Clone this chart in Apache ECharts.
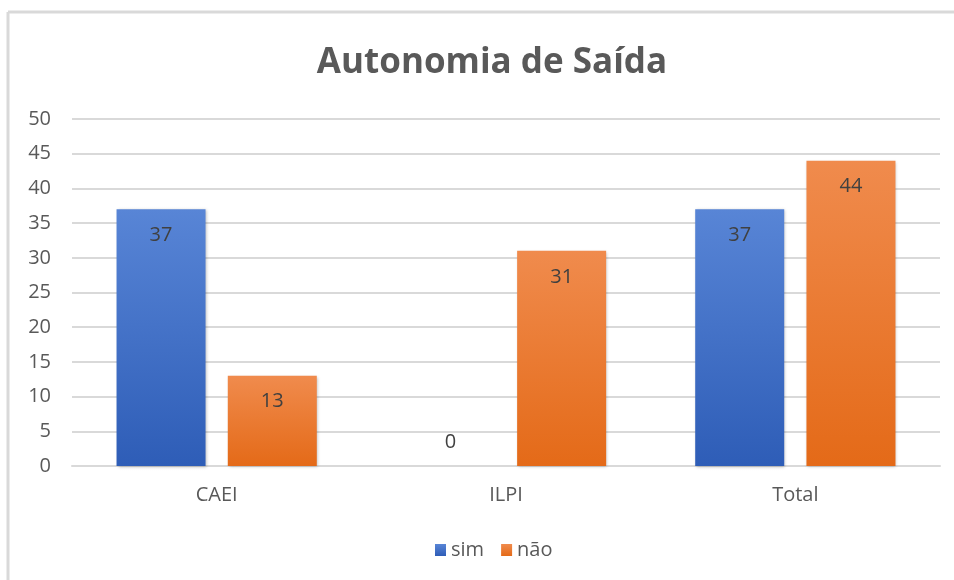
<!DOCTYPE html>
<html><head><meta charset="utf-8">
<script src="https://cdn.jsdelivr.net/npm/echarts@6/dist/echarts.min.js"></script>
<style>html,body{margin:0;padding:0;background:#fff}#c{width:954px;height:580px}</style>
</head><body><div id="c"></div>
<script>
const categories = ['CAEI', 'ILPI', 'Total'];
const simValues = [37, 0, 37];
const naoValues = [13, 31, 44];
const yTicks = [0, 5, 10, 15, 20, 25, 30, 35, 40, 45, 50];
const seriesNames = ['sim', 'não'];

const chart = echarts.init(document.getElementById('c'));
const FONT = 'Open Sans';
function grad(top, bottom) {
  return new echarts.graphic.LinearGradient(0, 0, 0, 1, [{offset: 0, color: top}, {offset: 1, color: bottom}]);
}
function mkData(vals) {
  return vals.map(v => v === 0 ? {value: v, label: {position: 'top', distance: 14}} : v);
}
const labelCfg = {show: true, position: 'insideTop', distance: 16, color: '#404040', fontSize: 20, fontFamily: FONT};
chart.setOption({
  animation: false,
  backgroundColor: '#fff',
  title: {text: 'Autonomia de Saída', left: 487, textAlign: 'center', top: 41,
    textStyle: {fontFamily: FONT, fontSize: 35, fontWeight: 'bold', color: '#595959'}},
  legend: {bottom: 15, left: 430, itemWidth: 11, itemHeight: 12, itemGap: 17, icon: 'rect',
    textStyle: {fontFamily: FONT, fontSize: 20, color: '#595959'}, data: seriesNames},
  grid: {left: 72, right: 14, top: 119, bottom: 114},
  xAxis: {type: 'category', data: categories,
    axisLine: {show: true, lineStyle: {color: '#d9d9d9', width: 2}}, axisTick: {show: false},
    axisLabel: {fontFamily: FONT, fontSize: 20, color: '#595959', margin: 19}},
  yAxis: {type: 'value', min: yTicks[0], max: yTicks[yTicks.length - 1], interval: 5,
    axisLine: {show: false}, axisTick: {show: false},
    splitLine: {lineStyle: {color: '#d9d9d9', width: 2}},
    axisLabel: {fontFamily: FONT, fontSize: 20, color: '#595959', margin: 21}},
  series: [
    {name: seriesNames[0], type: 'bar', data: mkData(simValues), barWidth: 89, barGap: '25%',
      itemStyle: {color: grad('#5885d6', '#2e5db7'), shadowColor: 'rgba(0,0,0,0.25)', shadowBlur: 3, shadowOffsetX: 1, shadowOffsetY: 1},
      label: labelCfg},
    {name: seriesNames[1], type: 'bar', data: mkData(naoValues), barWidth: 89, barGap: '25%',
      itemStyle: {color: grad('#f08b4d', '#e46a18'), shadowColor: 'rgba(0,0,0,0.25)', shadowBlur: 3, shadowOffsetX: 1, shadowOffsetY: 1},
      label: labelCfg}
  ],
  graphic: [
    {type: 'line', shape: {x1: 8, y1: 12, x2: 954, y2: 12}, style: {stroke: '#d9d9d9', lineWidth: 3}},
    {type: 'line', shape: {x1: 8, y1: 12, x2: 8, y2: 580}, style: {stroke: '#d9d9d9', lineWidth: 3}}
  ]
});
</script></body></html>
